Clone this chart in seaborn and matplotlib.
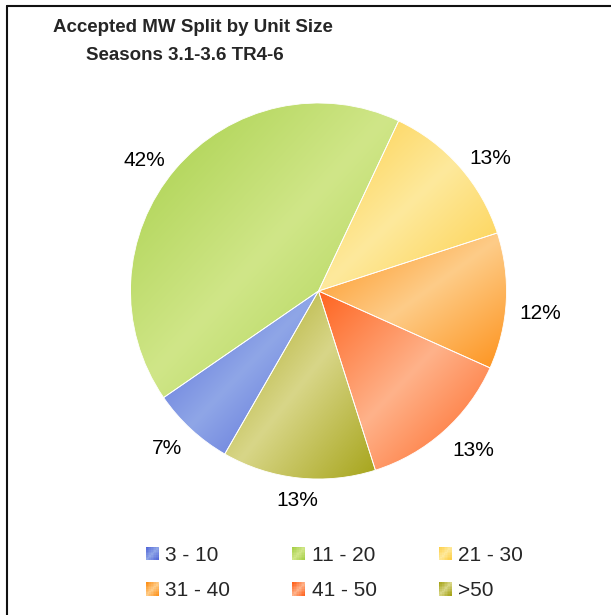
import numpy as np
import matplotlib
matplotlib.use("Agg")
import matplotlib.pyplot as plt
import matplotlib.patches as mpatches
from matplotlib.lines import Line2D
from matplotlib.legend_handler import HandlerBase
import seaborn as sns

# data
unit_sizes = ["3 - 10", "11 - 20", "21 - 30", "31 - 40", "41 - 50", ">50"]
accepted_mw_share = [7.1, 41.6, 13.0, 11.7, 13.4, 13.2]

# gradient end colours per slice (light middle, dark corners)
light_colors = ["#8fa6e7", "#d0e688", "#fee99c", "#fecc88", "#feb28a", "#d8d688"]
dark_colors = ["#5468d8", "#a6cf48", "#fdcf48", "#fd921c", "#ff6420", "#a6a41a"]


def diagonal_shade(n):
    # 0 in the middle of the box, 1 at top-left / bottom-right corners
    u = np.linspace(0, 1, n)
    xx, yy = np.meshgrid(u, u)
    t = (xx + (1 - yy)) / 2
    return np.abs(2 * t - 1)


class GradientSquare(HandlerBase):
    def __init__(self, cmap, cells=8):
        super().__init__()
        self.cmap = cmap
        self.cells = cells

    def create_artists(self, legend, orig_handle, xdescent, ydescent,
                       width, height, fontsize, trans):
        grid = diagonal_shade(self.cells)
        cw, ch = width / self.cells, height / self.cells
        arts = []
        for i in range(self.cells):
            for j in range(self.cells):
                arts.append(mpatches.Rectangle(
                    (-xdescent + j * cw, -ydescent + i * ch), cw, ch,
                    facecolor=self.cmap(grid[i, j]), edgecolor="none",
                    antialiased=False, transform=trans))
        return arts


sns.set_theme(style="white")
plt.rcParams["font.family"] = ["Liberation Sans", "DejaVu Sans"]

W, H = 611, 615
fig = plt.figure(figsize=(W / 100, H / 100), dpi=100)

cmaps = [sns.blend_palette([lc, dc], as_cmap=True)
         for lc, dc in zip(light_colors, dark_colors)]

ax = fig.add_axes([130.5 / W, 1 - 479 / H, 376 / W, 376 / H])
total = sum(accepted_mw_share)
pct_labels = [f"{v / total * 100:.0f}%" for v in accepted_mw_share]

label_dist = 1.07
wedges, texts = ax.pie(accepted_mw_share, labels=pct_labels,
                       labeldistance=label_dist, startangle=-119.9,
                       counterclock=False,
                       wedgeprops=dict(facecolor="none", edgecolor="white",
                                       linewidth=0.6),
                       textprops=dict(fontsize=15, color="black"))

shade = diagonal_shade(200)
for w, cmap in zip(wedges, cmaps):
    ext = w.get_path().get_extents()
    im = ax.imshow(shade, cmap=cmap, vmin=0, vmax=1, origin="lower",
                   extent=(ext.x0, ext.x1, ext.y0, ext.y1),
                   interpolation="bilinear", zorder=0.5)
    im.set_clip_path(w)
    w.set_zorder(1)

# Excel-like label alignment
for t in texts:
    x, y = t.get_position()
    sx, cy = x / label_dist, y / label_dist
    if abs(sx) < 0.3:
        t.set_ha("center")
    else:
        t.set_ha("left" if sx > 0 else "right")
    if cy < -0.7:
        t.set_va("top")
    elif abs(cy) < 0.3:
        t.set_va("top")
        t.set_y(y - 0.01)
    else:
        t.set_va("center")

ax.set_xlim(-1, 1)
ax.set_ylim(-1, 1)
ax.axis("off")

# title
fig.text(192.5 / W, 1 - 32.5 / H, "Accepted MW Split by Unit Size",
         ha="center", va="baseline", fontsize=13.5, fontweight="bold")
fig.text(185 / W, 1 - 60 / H, "Seasons 3.1-3.6 TR4-6",
         ha="center", va="baseline", fontsize=13.5, fontweight="bold")

# legend, filled row by row
handles = [mpatches.Patch(label=s) for s in unit_sizes]
hmap = {h: GradientSquare(c) for h, c in zip(handles, cmaps)}
order = [0, 3, 1, 4, 2, 5]
fig.legend([handles[i] for i in order], [unit_sizes[i] for i in order],
           handler_map=hmap, loc="center",
           bbox_to_anchor=(334.5 / W, 1 - 573 / H), ncol=3, frameon=False,
           fontsize=15, handlelength=0.62, handleheight=0.62,
           handletextpad=0.3, columnspacing=2.98, labelspacing=0.8)

# chart area border (left and top only visible)
fig.add_artist(Line2D([7 / W, 7 / W], [0, 1 - 6 / H], transform=fig.transFigure,
                      color="#111111", lw=1.5))
fig.add_artist(Line2D([7 / W, 1], [1 - 6 / H, 1 - 6 / H], transform=fig.transFigure,
                      color="#111111", lw=1.5))

fig.savefig("out.png", dpi=100)
